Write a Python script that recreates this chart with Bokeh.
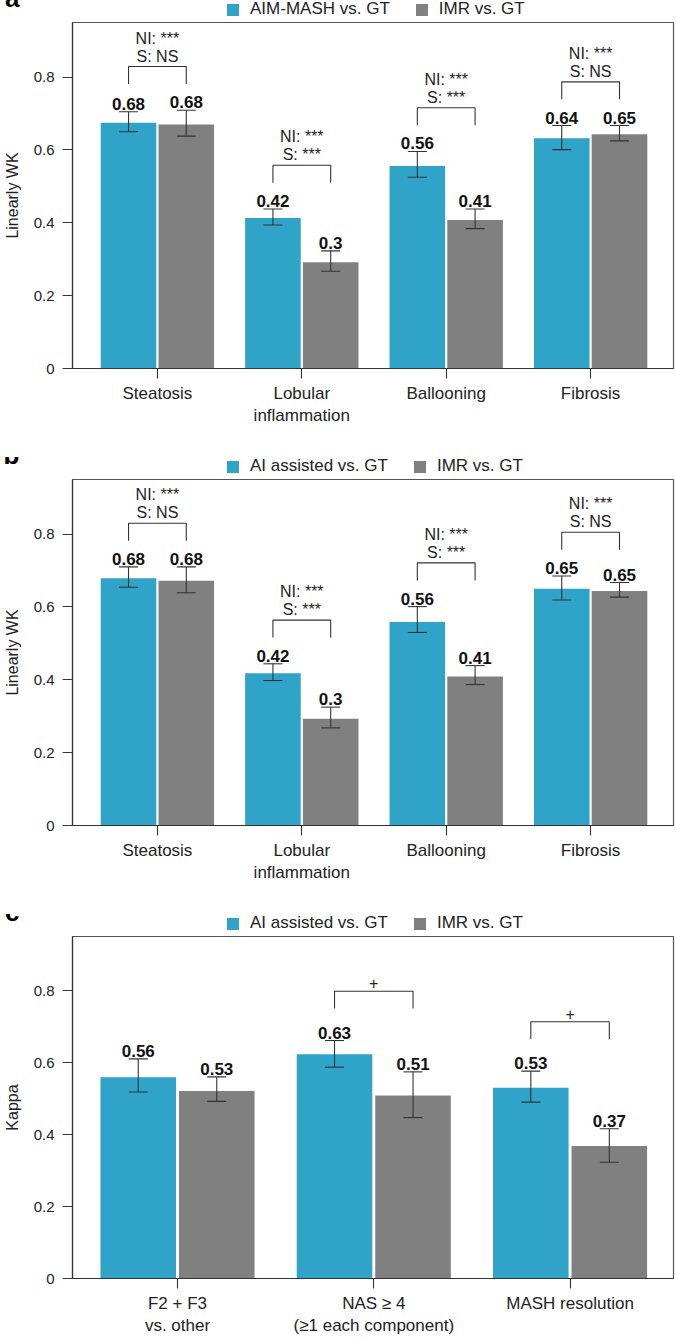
from bokeh.plotting import figure
from bokeh.models import (Range1d, FixedTicker, Legend, LegendItem, Whisker, TeeHead,
                          ColumnDataSource)
from bokeh.layouts import column
from bokeh.embed import file_html
from bokeh.resources import INLINE
from bokeh.core.properties import value

FONT = "Liberation Sans"
BLUE = "#30A3C8"
GRAY = "#808080"
INK = "#333333"

# ---------------- data ----------------
cats_ab = ["Steatosis", "Lobular\ninflammation", "Ballooning", "Fibrosis"]
cats_c = ["F2 + F3\nvs. other", "NAS \u2265 4\n(\u22651 each component)", "MASH resolution"]
y_ticks = [0, 0.2, 0.4, 0.6, 0.8]
y_tick_labels = ["0", "0.2", "0.4", "0.6", "0.8"]

# panel a
a_series = ["AIM-MASH vs. GT", "IMR vs. GT"]
a_blue = [0.675, 0.413, 0.556, 0.632]
a_blue_lo = [0.650, 0.394, 0.525, 0.601]
a_blue_hi = [0.705, 0.438, 0.596, 0.667]
a_blue_lbl = ["0.68", "0.42", "0.56", "0.64"]
a_gray = [0.670, 0.292, 0.408, 0.643]
a_gray_lo = [0.638, 0.267, 0.384, 0.625]
a_gray_hi = [0.709, 0.323, 0.438, 0.667]
a_gray_lbl = ["0.68", "0.3", "0.41", "0.65"]
a_notes = ["NI: ***\nS: NS", "NI: ***\nS: ***", "NI: ***\nS: ***", "NI: ***\nS: NS"]

# panel b
b_series = ["AI assisted vs. GT", "IMR vs. GT"]
b_blue = [0.679, 0.418, 0.559, 0.650]
b_blue_lo = [0.654, 0.398, 0.530, 0.619]
b_blue_hi = [0.710, 0.444, 0.601, 0.685]
b_blue_lbl = ["0.68", "0.42", "0.56", "0.65"]
b_gray = [0.672, 0.293, 0.409, 0.644]
b_gray_lo = [0.639, 0.268, 0.387, 0.627]
b_gray_hi = [0.710, 0.325, 0.439, 0.667]
b_gray_lbl = ["0.68", "0.3", "0.41", "0.65"]
b_notes = ["NI: ***\nS: NS", "NI: ***\nS: ***", "NI: ***\nS: ***", "NI: ***\nS: NS"]

# panel c
c_series = ["AI assisted vs. GT", "IMR vs. GT"]
c_blue = [0.559, 0.623, 0.530]
c_blue_lo = [0.518, 0.587, 0.490]
c_blue_hi = [0.610, 0.661, 0.576]
c_blue_lbl = ["0.56", "0.63", "0.53"]
c_gray = [0.521, 0.508, 0.368]
c_gray_lo = [0.492, 0.447, 0.323]
c_gray_hi = [0.560, 0.574, 0.416]
c_gray_lbl = ["0.53", "0.51", "0.37"]
c_notes = ["", "+", "+"]

W = 676
LEFT = 69
RIGHT = 3


def header(letter, series):
    h = figure(width=W, height=21, x_range=Range1d(0, 604), y_range=Range1d(0, 21),
               output_backend="svg", toolbar_location=None, x_axis_type=None,
               min_border_left=LEFT, min_border_right=RIGHT, min_border_top=0,
               min_border_bottom=0)
    h.outline_line_color = None
    h.xgrid.visible = False
    h.ygrid.visible = False
    # panel letter drawn as the single tick label of an invisible left axis
    ax = h.yaxis[0]
    ax.ticker = FixedTicker(ticks=[6])
    ax.major_label_overrides = {6: letter}
    ax.axis_line_color = None
    ax.major_tick_line_color = None
    ax.minor_tick_line_color = None
    ax.major_tick_out = 0
    ax.major_tick_in = 0
    ax.major_label_standoff = 53
    ax.major_label_text_font = FONT
    ax.major_label_text_font_size = "26px"
    ax.major_label_text_font_style = "bold"
    ax.major_label_text_color = "#000000"
    # hidden swatch renderers for the legend
    rb = h.vbar(x=[-50], top=[0], width=1, fill_color=BLUE, line_color=None)
    rg = h.vbar(x=[-50], top=[0], width=1, fill_color=GRAY, line_color=None)
    legend = Legend(items=[LegendItem(label=series[0], renderers=[rb]),
                           LegendItem(label=series[1], renderers=[rg])],
                    orientation="horizontal", location=(153, 2),
                    glyph_width=15, glyph_height=15, label_standoff=10, spacing=24,
                    padding=0, margin=0, border_line_color=None, background_fill_alpha=0,
                    label_text_font=FONT, label_text_font_size="17px",
                    label_text_color="#222222")
    h.add_layout(legend)
    return h


def panel(cats, blue, blue_lo, blue_hi, blue_lbl, gray, gray_lo, gray_hi,
          gray_lbl, notes, ylabel, xr, height, border_bottom, gap):
    n = len(cats)
    xs = list(range(n))
    p = figure(width=W, height=height, x_range=Range1d(*xr), y_range=Range1d(0, 0.95),
               output_backend="svg", toolbar_location=None,
               min_border_left=LEFT, min_border_right=RIGHT, min_border_top=1,
               min_border_bottom=border_bottom)
    p.outline_line_color = "#555555"
    p.outline_line_width = 1.2
    p.xgrid.visible = False
    p.ygrid.visible = False

    off = 0.2
    w = 0.385
    bx = [x - off for x in xs]
    gx = [x + off for x in xs]
    p.vbar(x=bx, top=blue, width=w, fill_color=BLUE, line_color=None)
    p.vbar(x=gx, top=gray, width=w, fill_color=GRAY, line_color=None)

    for px, lo, hi in ((bx, blue_lo, blue_hi), (gx, gray_lo, gray_hi)):
        src = ColumnDataSource(dict(x=px, lo=lo, hi=hi))
        wk = Whisker(source=src, base="x", upper="hi", lower="lo", line_color=INK,
                     line_width=1.1, level="annotation",
                     upper_head=TeeHead(size=19, line_color=INK, line_width=1.1),
                     lower_head=TeeHead(size=19, line_color=INK, line_width=1.1))
        p.add_layout(wk)

    for px, hi, lbl in ((bx, blue_hi, blue_lbl), (gx, gray_hi, gray_lbl)):
        p.text(x=px, y=hi, text=lbl, text_align="center", text_baseline="alphabetic",
               y_offset=-8, text_font=value(FONT), text_font_style="bold",
               text_font_size="17px", text_color="#111111")

    # significance brackets
    mx, my, tx, ty, tt = [], [], [], [], []
    for i in xs:
        if not notes[i]:
            continue
        b = max(blue_hi[i], gray_hi[i]) + gap
        mx.append([bx[i], bx[i], gx[i], gx[i]])
        my.append([b - 0.048, b, b, b - 0.048])
        tx.append(i)
        ty.append(b)
        tt.append(notes[i])
    p.multi_line(xs=mx, ys=my, line_color=INK, line_width=1.1)
    p.text(x=tx, y=ty, text=tt, text_align="center", text_baseline="bottom", y_offset=-2,
           text_font=value(FONT), text_font_size="16px", text_color="#222222",
           text_line_height=1.05)

    # axes
    for ax in (p.xaxis[0], p.yaxis[0]):
        ax.axis_line_color = INK
        ax.axis_line_width = 1.2
        ax.major_tick_line_color = INK
        ax.major_tick_line_width = 1.1
        ax.major_tick_out = 10
        ax.major_tick_in = 0
        ax.minor_tick_line_color = None
        ax.major_label_text_font = FONT
        ax.major_label_text_color = "#222222"
    p.yaxis.ticker = FixedTicker(ticks=y_ticks)
    p.yaxis.major_label_overrides = {t: s for t, s in zip(y_ticks, y_tick_labels)}
    p.yaxis.major_label_text_font_size = "15px"
    p.yaxis.major_label_standoff = 8
    p.yaxis.axis_label = ylabel
    p.yaxis.axis_label_text_font = FONT
    p.yaxis.axis_label_text_font_size = "16px"
    p.yaxis.axis_label_text_font_style = "normal"
    p.yaxis.axis_label_text_color = "#222222"
    p.yaxis.axis_label_standoff = 10
    p.xaxis.ticker = FixedTicker(ticks=xs)
    p.xaxis.major_label_overrides = {i: c for i, c in enumerate(cats)}
    p.xaxis.major_label_text_font_size = "17px"
    p.xaxis.major_label_standoff = 5
    return p


ha = header("a", a_series)
pa = panel(cats_ab, a_blue, a_blue_lo, a_blue_hi, a_blue_lbl, a_gray, a_gray_lo,
           a_gray_hi, a_gray_lbl, a_notes, "Linearly WK", (-0.588, 3.574), 436, 89, 0.12)
hb = header("b", b_series)
pb = panel(cats_ab, b_blue, b_blue_lo, b_blue_hi, b_blue_lbl, b_gray, b_gray_lo,
           b_gray_hi, b_gray_lbl, b_notes, "Linearly WK", (-0.588, 3.574), 436, 89, 0.12)
hc = header("c", c_series)
pc = panel(cats_c, c_blue, c_blue_lo, c_blue_hi, c_blue_lbl, c_gray, c_gray_lo,
           c_gray_hi, c_gray_lbl, c_notes, "Kappa", (-0.535, 2.527), 403, 56, 0.137)

layout = column(ha, pa, hb, pb, hc, pc, spacing=0)
open("out.html", "w").write(file_html(layout, INLINE))
